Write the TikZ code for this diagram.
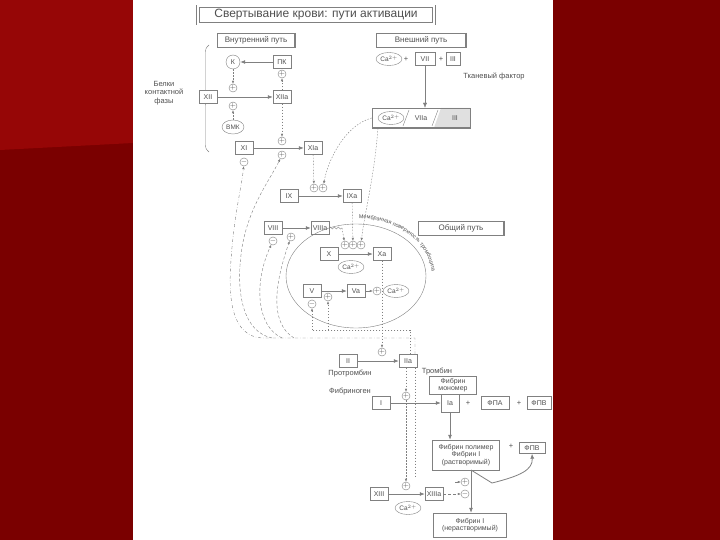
\documentclass[tikz,border=0pt]{standalone}
\usepackage{fontspec}
\setmainfont{Liberation Sans}
\usetikzlibrary{arrows.meta}
\usetikzlibrary{shapes.geometric}
\usetikzlibrary{decorations.pathreplacing}
\usetikzlibrary{decorations.pathmorphing}
\usetikzlibrary{decorations.text}
\definecolor{bgdark}{RGB}{122,0,0}
\definecolor{bglight}{RGB}{150,6,6}
\definecolor{ln}{RGB}{128,128,128}
\definecolor{tx}{RGB}{80,80,80}

\begin{document}
\begin{tikzpicture}[x=1pt,y=1pt,
 fbox/.style={draw=ln,fill=white,text=tx,font=\fontsize{7}{8}\selectfont,inner sep=1pt,minimum height=13,minimum width=18},
 ov/.style={draw=ln,ellipse,fill=white,text=tx,font=\fontsize{6.5}{7}\selectfont,inner sep=0.5pt,minimum width=24,minimum height=13},
 pl/.style={circle,draw=ln,fill=white,text=tx,inner sep=0pt,minimum size=7,font=\fontsize{7}{7}\selectfont},
 lbl/.style={text=tx,font=\fontsize{7.5}{8.5}\selectfont,align=center},
 arr/.style={ln,thick,-{Latex[length=5pt,width=4pt]}},
 dl/.style={ln,dash pattern=on 1.5pt off 1.5pt},
 dsh/.style={ln,dash pattern=on 3pt off 2pt},
 tip/.style={-{Latex[length=3pt,width=2.5pt]}}]
\useasboundingbox (0,0) rectangle (720,-540);
\fill[bgdark] (0,0) rectangle (720,-540);
\fill[bglight] (0,0) -- (133,0) -- (133,-143) -- (0,-150) -- cycle;
\fill[white] (133,0) rectangle (553,-540);

\node[draw=ln,double=white,double distance=2.5pt,fill=white,text=tx,font=\fontsize{12}{14}\selectfont,minimum width=236,minimum height=17] (title) at (316,-15) {Свертывание крови: пути активации};
\node[fbox,minimum width=78,minimum height=14,font=\fontsize{8}{9}\selectfont] (intr) at (256,-40) {Внутренний путь};
\node[fbox,minimum width=90,minimum height=14,font=\fontsize{8}{9}\selectfont] (extr) at (421,-40) {Внешний путь};
\node[fbox,minimum width=86,minimum height=14,font=\fontsize{8}{9}\selectfont] (comm) at (461,-228) {Общий путь};
\foreach \n in {intr,extr,comm}
  \draw[ln,line width=2.5pt] (\n.north east) -- (\n.south east);

\draw[ln,decorate,decoration={brace,amplitude=7pt}] (209,-152) -- (209,-45);
\node[lbl] (cont) at (164,-93) {Белки\\контактной\\фазы};

\node[circle,draw=ln,text=tx,font=\fontsize{7}{8}\selectfont,minimum size=14,inner sep=0pt] (K) at (233,-62) {К};
\node[fbox] (PK) at (282,-62) {ПК};
\node[fbox] (XII) at (208,-97) {XII};
\node[fbox] (XIIa) at (282,-97) {XIIa};
\node[ov,minimum width=22,minimum height=14] (HMK) at (233,-127) {ВМК};
\node[fbox] (XI) at (244,-148) {XI};
\node[fbox] (XIa) at (313,-148) {XIa};
\node[fbox] (IX) at (289,-196) {IX};
\node[fbox] (IXa) at (352,-196) {IXa};
\node[fbox] (VIII) at (273,-228) {VIII};
\node[fbox] (VIIIa) at (320,-228) {VIIIa};

\node[draw=ln,ellipse,minimum width=140,minimum height=104] (mem) at (356,-276) {};
\path[decorate,decoration={text along path,text align=center,
  text={|\fontsize{5.5}{6}\selectfont\color{tx}|Мембранная поверхность тромбоцита}}]
  (mem.center) ++(95:76 and 58) arc[start angle=95,end angle=-5,x radius=76,y radius=58];
\node[fbox] (X) at (329,-254) {X};
\node[fbox] (Xa) at (382,-254) {Xa};
\node[ov] (ca2) at (351,-267) {Ca$^{2+}$};
\node[fbox] (V) at (312,-291) {V};
\node[fbox] (Va) at (356,-291) {Va};
\node[ov] (ca3) at (396,-291) {Ca$^{2+}$};

\node[ov] (ca1) at (389,-59) {Ca$^{2+}$};
\node[lbl] (s1) at (406,-59) {+};
\node[fbox,minimum width=20] (VII) at (425,-59) {VII};
\node[lbl] (s2) at (441,-59) {+};
\node[fbox,minimum width=14] (III) at (453,-59) {III};
\node[lbl] (tf) at (494,-76) {Тканевый фактор};
\fill[black!12] (434,-128) -- (441,-108) -- (470,-108) -- (470,-128) -- cycle;
\node[draw=ln,minimum width=98,minimum height=20] (cplx) at (421,-118) {};
\draw[ln,line width=1.5pt] (cplx.south west) -- (cplx.south east);
\node[ov] (ca5) at (391,-118) {Ca$^{2+}$};
\node[lbl,font=\fontsize{7}{8}\selectfont] (VIIa) at (421,-118) {VIIa};
\node[lbl,font=\fontsize{7}{8}\selectfont] (III2) at (455,-118) {III};
\draw[ln] (403,-126) -- (409,-110);
\draw[ln] (432,-126) -- (438,-110);
\draw[ln,-{Latex[length=5pt,width=4pt]}] (VII) -- (VII |- cplx.north);

\node[fbox] (II) at (348,-361) {II};
\node[fbox] (IIa) at (408,-361) {IIa};
\node[lbl] (prt) at (350,-374) {Протромбин};
\node[lbl] (thr) at (437,-372) {Тромбин};
\node[lbl] (fgn) at (350,-392) {Фибриноген};
\node[fbox] (I) at (381,-403) {I};
\node[fbox,minimum width=47,minimum height=18,align=center,font=\fontsize{7}{7.5}\selectfont] (fm) at (453,-385) {Фибрин\\мономер};
\node[fbox,minimum height=18] (Ia) at (450,-403) {Ia};
\node[lbl] (s3) at (468,-403) {+};
\node[fbox,minimum width=28] (FPA) at (495,-403) {ФПА};
\node[lbl] (s4) at (519,-403) {+};
\node[fbox,minimum width=24] (FPB) at (539,-403) {ФПВ};
\node[fbox,minimum width=67,minimum height=30,align=center,font=\fontsize{7}{7.5}\selectfont] (fp) at (466,-455) {Фибрин полимер\\Фибрин I\\(растворимый)};
\node[lbl] (s5) at (511,-446) {+};
\node[fbox,minimum width=26,minimum height=11] (FPB2) at (532,-448) {ФПВ};
\node[fbox,minimum width=73,minimum height=24,align=center,font=\fontsize{7}{7.5}\selectfont] (fib) at (470,-525) {Фибрин I\\(нерастворимый)};
\node[fbox] (XIII) at (379,-494) {XIII};
\node[fbox] (XIIIa) at (434,-494) {XIIIa};
\node[ov] (ca4) at (408,-508) {Ca$^{2+}$};

\foreach \n/\x/\y in {a1/282/74,a2/233/88,a3/233/106,a4/282/141,a5/282/155,b1/314/188,b2/323/188,c1/291/237,e1/345/245,e2/353/245,e3/361/245,f1/328/297,f2/377/291,g1/382/352,h1/406/396,k1/406/486,k2/465/482}
  \node[pl] (\n) at (\x,-\y) {$+$};
\foreach \n/\x/\y in {m1/244/162,m2/273/241,m3/312/304,m4/465/494}
  \node[pl] (\n) at (\x,-\y) {$-$};

\draw[arr] (PK) -- (K);
\draw[arr] (XII) -- (XIIa);
\draw[arr] (XI) -- (XIa);
\draw[arr] (IX) -- (IXa);
\draw[arr] (VIII) -- (VIIIa);
\draw[arr] (X) -- (Xa);
\draw[arr] (V) -- (Va);
\draw[arr] (II) -- (IIa);
\draw[arr] (I) -- (Ia);
\draw[arr] (XIII) -- (XIIIa);
\draw[arr] (Ia) -- (Ia |- fp.north);
\draw[ln,-{Latex[length=3pt,width=2.5pt]}] (Va) -- (f2);

\draw[dl,tip] (XIIa) -- (a1);
\draw[dl,tip] (K) -- (a2);
\draw[dl,tip] (HMK) -- (a3);
\draw[dl,tip] (XIIa) -- (a4);
\draw[dl,tip] (XIa) -- (b1);
\draw[dl,tip] (cplx.west) .. controls (345,-125) and (328,-160) .. (b2);
\coordinate (cs) at (378,-128);
\draw[dl,tip] (cs) .. controls (374,-180) and (364,-215) .. (e3);
\draw[dl,tip] (IXa) -- (e2);
\coordinate (tl) at (342,-228);
\draw[ln,decorate,decoration={snake,amplitude=1pt,segment length=4pt}] (VIIIa.east) -- (tl);
\draw[dl,tip] (tl) -- (e1);
\draw[dl,tip] (Xa) -- (g1);

\coordinate (q1) at (410,-330);
\coordinate (q2) at (312,-330);
\coordinate (q3) at (328,-330);
\draw[dl] (IIa.north -| q1) -- (q1) -- (q2);
\draw[dl,tip] (q2) -- (m3);
\draw[dl,tip] (q3) -- (f1);
\coordinate (r1) at (415,-338);
\coordinate (r2) at (262,-338);
\coordinate (r3) at (272,-338);
\coordinate (r4) at (282,-338);
\coordinate (r5) at (294,-338);
\coordinate (r6) at (415,-478);
\draw[ln,dash dot,tip] (IIa.north -| r1) -- (r1) -- (r2) .. controls (232,-336) and (228,-300) .. (231,-260) .. controls (234,-215) and (242,-185) .. (m1);
\draw[dsh,tip] (r3) .. controls (244,-332) and (236,-295) .. (241,-255) .. controls (246,-210) and (270,-180) .. (a5);
\draw[dsh,tip] (r4) .. controls (256,-326) and (254,-282) .. (m2);
\draw[dsh,tip] (r5) .. controls (268,-322) and (276,-280) .. (c1);
\draw[dl,tip] (IIa.south -| h1) -- (h1);
\draw[dl,tip] (h1) -- (k1);
\draw[dl] (IIa.south -| r1) -- (r6);

\coordinate (fpb) at (471,-470);
\coordinate (bend) at (492,-483);
\draw[arr] (fpb) -- (fpb |- fib.north);
\draw[arr] (fpb) -- (bend) .. controls (520,-476) and (533,-470) .. (FPB2.south);
\draw[dsh,-{Latex[length=3pt,width=2.5pt]}] (XIIIa) -- (m4);
\coordinate (kk) at (455,-482);
\draw[ln,tip] (kk) -- (k2);
\end{tikzpicture}
\end{document}
